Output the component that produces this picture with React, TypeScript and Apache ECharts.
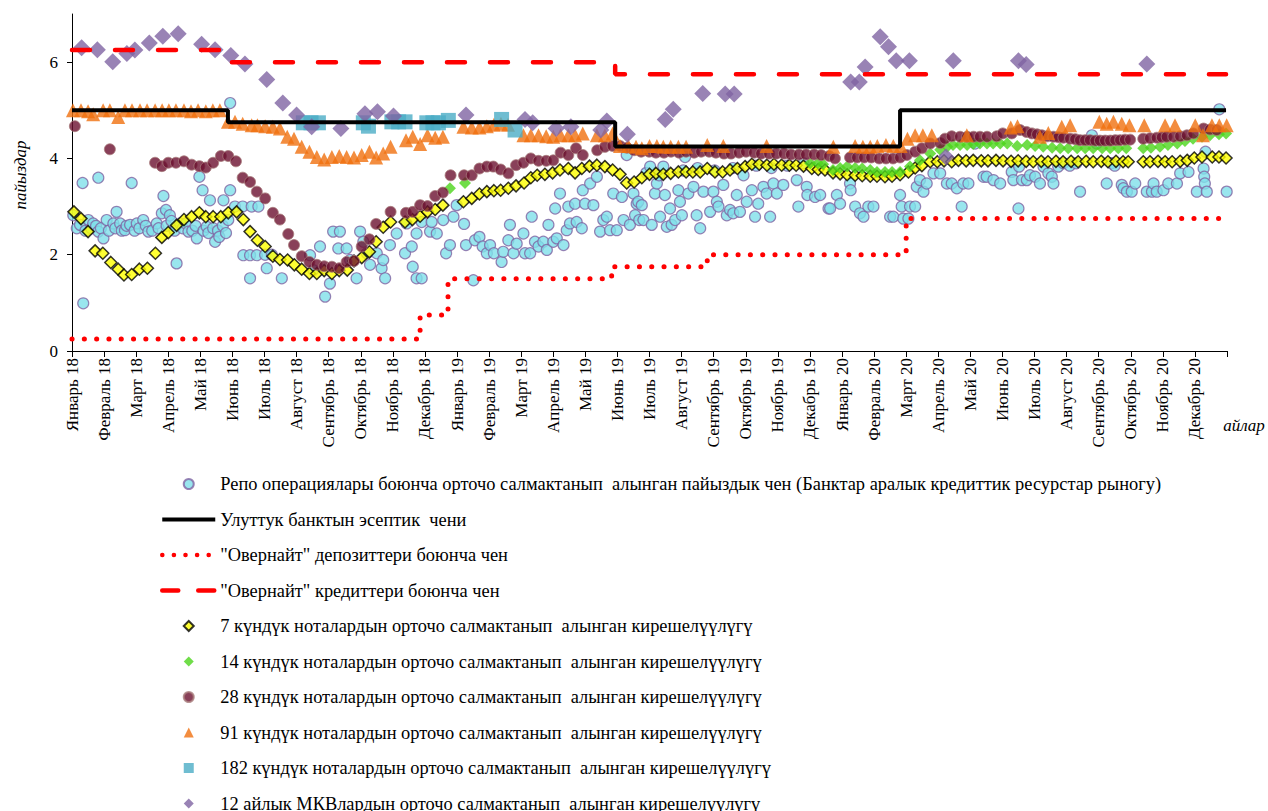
import React, { useEffect, useRef } from "react";
import * as echarts from "echarts";

const monthNames = ["Январь", "Февраль", "Март", "Апрель", "Май", "Июнь", "Июль", "Август", "Сентябрь", "Октябрь", "Ноябрь", "Декабрь"];
const yearSuffixes = ["18", "19", "20"];
const monthLabels: string[] = yearSuffixes.flatMap((y) => monthNames.map((m) => `${m} ${y}`));
const yTicks = [0, 2, 4, 6];

// x values are months since January 2018 (fractional), y values are rates in %
const policyRate = [[0, 5.0], [4.86, 4.75], [16.93, 4.25], [25.81, 5.0], [35.97, 5.0]];
const overnightDeposit = [[0, 0.25], [10.85, 0.75], [11.72, 1.5], [16.82, 1.75], [19.8, 2.0], [26.0, 2.75], [35.97, 2.75]];
const overnightCredit = [[0, 6.25], [4.86, 6.0], [16.93, 5.75], [35.97, 5.75]];

const repoRate = [
  [0.04, 2.82], [0.15, 2.55], [0.25, 2.62], [0.33, 3.49], [0.35, 0.99], [0.42, 2.5], [0.51, 2.72], [0.6, 2.55], [0.66, 2.65], [0.75, 2.6],
  [0.82, 2.48], [0.82, 3.6], [0.9, 2.55], [0.98, 2.34], [1.08, 2.72], [1.15, 2.5], [1.29, 2.65], [1.35, 2.55], [1.39, 2.89], [1.5, 2.65],
  [1.55, 2.5], [1.65, 2.51], [1.7, 2.6], [1.81, 2.62], [1.86, 3.49], [1.95, 2.5], [2.02, 2.65], [2.1, 2.55], [2.22, 2.72], [2.3, 2.6],
  [2.38, 2.48], [2.5, 2.5], [2.64, 2.65], [2.7, 2.55], [2.8, 2.86], [2.85, 3.22], [2.93, 2.93], [2.95, 2.6], [3.05, 2.82], [3.1, 2.7],
  [3.2, 2.5], [3.26, 1.82], [3.37, 2.65], [3.45, 2.55], [3.55, 2.65], [3.63, 2.48], [3.75, 2.5], [3.85, 2.6], [3.89, 2.34], [3.97, 3.62],
  [4.07, 3.34], [4.1, 2.5], [4.2, 2.58], [4.25, 2.45], [4.3, 3.13], [4.4, 2.55], [4.46, 2.27], [4.55, 2.5], [4.59, 2.37], [4.7, 2.6],
  [4.72, 3.13], [4.8, 2.45], [4.87, 2.72], [4.93, 5.15], [4.93, 3.34],
  [5.08, 3.0], [5.32, 3.0], [5.34, 1.99], [5.55, 1.51], [5.55, 1.99], [5.6, 3.0], [5.76, 1.99], [5.81, 3.0], [6.02, 2.0], [6.07, 1.72],
  [6.23, 2.0], [6.54, 1.51],
  [7.42, 1.99], [7.52, 1.68], [7.73, 2.17], [7.89, 1.13], [8.04, 1.4], [8.14, 2.48], [8.3, 2.13], [8.35, 2.48], [8.56, 2.13], [8.67, 1.89],
  [8.87, 1.51], [8.98, 2.48], [9.08, 2.27], [9.19, 2.03], [9.29, 1.79], [9.5, 2.03], [9.65, 1.72], [9.7, 1.89], [9.76, 1.51], [9.91, 2.2],
  [10.12, 2.44], [10.38, 2.03], [10.43, 2.65], [10.59, 2.17], [10.62, 1.75], [10.74, 1.51], [10.74, 2.44], [10.9, 1.51], [10.9, 2.68],
  [11.16, 2.48], [11.21, 2.68], [11.37, 2.44], [11.57, 2.72], [11.66, 2.03], [11.78, 2.2], [11.89, 2.79], [11.99, 3.03],
  [12.22, 2.64], [12.28, 2.2], [12.51, 1.47], [12.56, 2.3], [12.7, 2.37], [12.8, 2.17], [12.93, 2.03], [13.03, 2.2], [13.15, 2.03], [13.39, 1.85],
  [13.44, 2.06], [13.6, 2.3], [13.65, 2.62], [13.76, 2.03], [13.86, 2.23], [14.07, 2.44], [14.12, 2.03], [14.28, 2.03], [14.33, 2.79], [14.43, 2.27],
  [14.54, 2.17], [14.69, 2.27], [14.8, 2.1], [14.85, 2.62], [15.0, 2.27], [15.06, 2.96], [15.11, 2.34], [15.21, 3.27], [15.32, 2.2], [15.42, 2.51],
  [15.47, 3.0], [15.52, 2.65], [15.68, 3.06], [15.73, 2.68], [15.89, 2.55], [15.92, 3.34], [15.99, 3.06], [16.15, 3.48], [16.25, 3.03], [16.36, 3.62],
  [16.46, 2.48], [16.56, 2.72], [16.67, 2.79], [16.77, 2.51], [16.87, 3.27], [16.98, 2.51], [17.14, 3.2], [17.19, 2.72], [17.29, 4.07], [17.39, 2.62],
  [17.5, 3.27], [17.55, 2.82], [17.6, 3.06], [17.65, 3.1], [17.68, 2.72], [17.76, 3.03], [17.81, 2.72], [17.9, 3.7], [18.02, 3.83], [18.07, 2.62],
  [18.17, 3.27], [18.23, 3.48], [18.3, 3.65], [18.33, 2.79], [18.43, 3.83], [18.48, 3.24], [18.54, 2.58], [18.64, 2.96], [18.69, 2.62], [18.8, 2.72],
  [18.9, 3.34], [18.95, 3.1], [19.01, 2.82], [19.05, 3.75], [19.11, 4.03], [19.21, 3.27], [19.37, 3.41], [19.47, 2.82], [19.5, 3.8], [19.58, 2.55],
  [19.68, 3.31], [19.89, 2.89], [19.99, 3.31], [20.03, 3.75], [20.1, 3.1], [20.15, 3.0], [20.3, 3.45], [20.41, 2.82], [20.51, 2.93], [20.6, 3.8],
  [20.61, 2.86], [20.72, 3.24], [20.82, 2.89], [20.93, 3.65], [21.03, 3.1], [21.19, 3.34], [21.29, 2.79], [21.33, 3.85], [21.39, 3.06], [21.55, 3.41],
  [21.65, 3.27], [21.76, 2.79], [21.8, 3.8], [21.86, 3.48], [21.97, 3.27], [22.17, 3.45], [22.3, 3.85], [22.59, 3.55], [22.64, 3.0], [22.8, 3.9],
  [22.9, 3.41], [22.92, 3.24], [23.16, 3.2], [23.32, 3.24], [23.58, 2.96], [23.63, 2.96], [23.84, 3.24], [23.94, 3.06], [24.25, 3.48], [24.27, 3.34],
  [24.41, 3.0], [24.56, 2.86], [24.67, 2.79], [24.82, 3.0], [24.98, 3.0], [25.5, 2.79], [25.6, 2.79], [25.81, 3.24], [25.86, 3.0], [25.91, 2.75],
  [26.07, 2.75], [26.12, 3.0], [26.28, 3.0], [26.33, 3.41], [26.43, 3.55], [26.54, 3.31], [26.64, 3.48], [26.85, 3.69], [27.06, 3.69], [27.27, 3.48],
  [27.42, 3.48], [27.58, 3.38], [27.73, 3.0], [27.78, 3.48], [27.94, 3.48], [28.15, 4.31], [28.41, 3.62], [28.51, 3.62], [28.72, 3.55], [28.93, 3.48],
  [29.29, 3.72], [29.34, 3.55], [29.5, 2.96], [29.52, 3.83], [29.61, 3.55], [29.76, 3.55], [29.86, 3.65], [30.02, 3.62], [30.17, 3.48], [30.28, 3.83],
  [30.43, 3.69], [30.54, 3.62], [30.59, 3.48], [30.74, 3.83], [30.9, 3.9], [31.1, 3.85], [31.3, 3.9], [31.42, 3.31], [31.79, 4.48], [31.94, 4.31],
  [32.25, 3.48], [32.4, 3.9], [32.5, 3.85], [32.72, 3.45], [32.77, 3.38], [32.88, 3.31], [33.03, 3.31], [33.14, 3.48], [33.5, 3.31], [33.66, 3.31],
  [33.71, 3.48], [33.81, 3.31], [34.02, 3.34], [34.17, 3.48], [34.44, 3.48], [34.54, 3.69], [34.8, 3.72], [35.06, 3.31], [35.27, 3.79], [35.29, 3.62],
  [35.31, 3.48], [35.33, 4.14], [35.37, 3.31], [35.76, 5.02], [35.99, 3.31],
];

const note7 = [
  [0.06, 2.89], [0.28, 2.75], [0.5, 2.48], [0.72, 2.08], [0.96, 2.03], [1.21, 1.84], [1.44, 1.7], [1.62, 1.58], [1.86, 1.59], [2.1, 1.7],
  [2.35, 1.72], [2.6, 2.03], [2.8, 2.36], [3.0, 2.46], [3.26, 2.61], [3.49, 2.73], [3.73, 2.79], [3.97, 2.87], [4.17, 2.79], [4.4, 2.79],
  [4.64, 2.79], [4.87, 2.87], [5.13, 2.89], [5.34, 2.73], [5.55, 2.48], [5.78, 2.3], [6.02, 2.17], [6.26, 1.97], [6.48, 1.9], [6.72, 1.89],
  [6.93, 1.79], [7.16, 1.7], [7.4, 1.61], [7.63, 1.61], [7.86, 1.67], [8.1, 1.61], [8.33, 1.67], [8.58, 1.68], [8.79, 1.87], [9.03, 1.94],
  [9.27, 2.06], [9.48, 2.27], [9.7, 2.57], [9.93, 2.68], [10.38, 2.68], [10.61, 2.73], [10.85, 2.8], [11.08, 2.89], [11.32, 2.94], [11.56, 3.03],
  [12.2, 3.1], [12.46, 3.17], [12.7, 3.26], [12.93, 3.31], [13.15, 3.33], [13.36, 3.34], [13.6, 3.38], [13.84, 3.43], [14.09, 3.49], [14.3, 3.6],
  [14.5, 3.65], [14.74, 3.67], [14.98, 3.7], [15.21, 3.76], [15.47, 3.79], [15.68, 3.7], [15.89, 3.79], [16.13, 3.84], [16.36, 3.86], [16.61, 3.83],
  [16.85, 3.76], [17.08, 3.67], [17.29, 3.49], [17.52, 3.51], [17.76, 3.6], [18.0, 3.67], [18.2, 3.69], [18.43, 3.67], [18.66, 3.69], [18.9, 3.72],
  [19.14, 3.72], [19.35, 3.72], [19.58, 3.72], [19.8, 3.79], [20.04, 3.72], [20.28, 3.72], [20.51, 3.76], [20.74, 3.79], [20.98, 3.83], [21.19, 3.88],
  [21.42, 3.88], [21.66, 3.86], [21.88, 3.88], [22.12, 3.86], [22.36, 3.86], [22.57, 3.86], [22.8, 3.84], [23.06, 3.79], [23.26, 3.77], [23.47, 3.76],
  [23.72, 3.7], [23.94, 3.68], [24.16, 3.66], [24.41, 3.65], [24.63, 3.64], [24.88, 3.63], [25.09, 3.63], [25.34, 3.62], [25.56, 3.63], [25.81, 3.66],
  [26.07, 3.72], [26.28, 3.8], [26.49, 3.85], [26.75, 3.93], [26.97, 3.93], [27.18, 3.95], [27.42, 3.93], [27.63, 3.96], [27.87, 3.95], [28.09, 3.96],
  [28.34, 3.95], [28.55, 3.95], [28.8, 3.96], [29.02, 3.95], [29.27, 3.94], [29.49, 3.95], [29.74, 3.94], [29.96, 3.93], [30.21, 3.94], [30.42, 3.93],
  [30.67, 3.94], [30.89, 3.93], [31.14, 3.94], [31.36, 3.93], [31.61, 3.94], [31.83, 3.93], [32.08, 3.94], [32.29, 3.93], [32.54, 3.94], [32.76, 3.93],
  [32.92, 3.93], [33.39, 3.93], [33.6, 3.93], [33.85, 3.94], [34.07, 3.93], [34.29, 3.93], [34.54, 3.94], [34.76, 3.96], [34.98, 4.01], [35.22, 4.03],
  [35.54, 4.03], [35.75, 4.03], [35.97, 4.01],
];

const note14 = [
  [11.78, 3.38], [12.25, 3.49],
  [23.01, 3.9], [23.25, 3.9], [23.41, 3.88], [23.72, 3.76], [23.94, 3.8], [24.16, 3.83], [24.41, 3.8], [24.63, 3.79], [24.88, 3.76], [25.09, 3.72],
  [25.34, 3.72], [25.56, 3.72], [25.81, 3.72], [26.12, 3.83], [26.43, 3.96], [26.75, 4.1], [27.06, 4.18], [27.28, 4.24], [27.46, 4.28], [27.68, 4.28],
  [27.9, 4.28], [28.09, 4.3], [28.3, 4.31], [28.52, 4.31], [28.71, 4.31], [28.93, 4.31], [29.15, 4.31], [29.46, 4.26], [29.77, 4.28], [30.02, 4.26],
  [30.27, 4.24], [30.55, 4.22], [30.8, 4.21], [31.05, 4.21], [31.33, 4.21], [31.58, 4.21], [31.83, 4.21], [32.11, 4.21], [32.36, 4.21], [32.61, 4.21],
  [32.86, 4.21], [33.39, 4.21], [33.63, 4.22], [33.91, 4.24], [34.16, 4.28], [34.45, 4.31], [34.69, 4.36], [34.94, 4.41], [35.22, 4.45], [35.47, 4.48],
  [35.75, 4.5], [35.97, 4.52],
];

const note28 = [
  [0.09, 4.67], [1.18, 4.19], [2.59, 3.91], [2.8, 3.84], [3.0, 3.91], [3.24, 3.91], [3.49, 3.94], [3.73, 3.87], [3.97, 3.84], [4.17, 3.81],
  [4.4, 3.91], [4.64, 4.05], [4.87, 4.05], [5.11, 3.94], [5.32, 3.6], [5.55, 3.51], [5.76, 3.31], [6.02, 3.17], [6.26, 2.87], [6.48, 2.73],
  [6.74, 2.43], [6.92, 2.2], [7.16, 1.97], [7.4, 1.85], [7.63, 1.79], [7.86, 1.76], [8.1, 1.75], [8.33, 1.72], [8.56, 1.85], [8.79, 1.87],
  [9.03, 2.17], [9.27, 2.32], [9.48, 2.64], [9.93, 2.89], [10.41, 2.87], [10.62, 2.89], [10.85, 3.03], [11.08, 3.01], [11.32, 3.22], [11.56, 3.29],
  [11.8, 3.65], [12.22, 3.65], [12.46, 3.65], [12.7, 3.79], [12.93, 3.83], [13.13, 3.83], [13.36, 3.77], [13.6, 3.69], [13.84, 3.86], [14.07, 3.91],
  [14.3, 4.0], [14.54, 3.95], [14.78, 3.95], [15.0, 3.96], [15.23, 4.12], [15.47, 4.07], [15.71, 4.21], [15.92, 4.07], [16.37, 4.17], [16.61, 4.24],
  [16.85, 4.26], [17.08, 4.26], [17.3, 4.22], [17.52, 4.17], [17.74, 4.14], [17.99, 4.14], [18.2, 4.12], [18.45, 4.12], [18.67, 4.14], [18.92, 4.12],
  [19.14, 4.14], [19.39, 4.12], [19.61, 4.14], [19.86, 4.14], [20.07, 4.12], [20.32, 4.1], [20.54, 4.1], [20.79, 4.12], [21.01, 4.14], [21.26, 4.12],
  [21.48, 4.1], [21.73, 4.1], [21.95, 4.1], [22.19, 4.1], [22.41, 4.08], [22.66, 4.08], [22.88, 4.08], [23.13, 4.08], [23.35, 4.07], [23.6, 4.05],
  [23.78, 4.0], [24.25, 4.02], [24.47, 4.02], [24.69, 4.02], [24.91, 4.02], [25.16, 4.0], [25.37, 4.0], [25.59, 4.0], [25.81, 4.02], [26.02, 4.07],
  [26.28, 4.14], [26.49, 4.21], [26.75, 4.31], [27.06, 4.32], [27.21, 4.41], [27.42, 4.46], [27.68, 4.45], [27.9, 4.45], [28.1, 4.45], [28.3, 4.45],
  [28.52, 4.45], [28.82, 4.46], [29.01, 4.52], [29.29, 4.52], [29.55, 4.59], [29.75, 4.55], [29.92, 4.52], [30.08, 4.5], [30.23, 4.48], [30.4, 4.46],
  [30.59, 4.45], [30.75, 4.44], [30.9, 4.43], [31.11, 4.41], [31.27, 4.4], [31.42, 4.38], [31.58, 4.38], [31.73, 4.38], [31.9, 4.37], [32.04, 4.37],
  [32.2, 4.37], [32.36, 4.37], [32.52, 4.38], [32.67, 4.38], [32.82, 4.39], [32.98, 4.39], [33.39, 4.41], [33.6, 4.42], [33.81, 4.43], [33.97, 4.44],
  [34.12, 4.45], [34.33, 4.45], [34.54, 4.46], [34.75, 4.48], [34.95, 4.52], [35.27, 4.62], [35.47, 4.6], [35.68, 4.59],
];

const note91 = [
  [0.03, 5.0], [0.28, 5.0], [0.5, 4.98], [0.66, 4.92], [0.97, 5.0], [1.18, 5.0], [1.44, 4.86], [1.65, 5.0], [1.87, 5.0], [2.12, 5.0],
  [2.34, 5.0], [2.59, 5.0], [2.81, 5.0], [3.02, 5.0], [3.24, 5.0], [3.49, 5.0], [3.71, 4.98], [3.93, 5.0], [4.17, 4.98], [4.39, 5.0],
  [4.61, 5.0], [4.86, 4.76], [5.08, 4.76], [5.32, 4.72], [5.6, 4.69], [5.78, 4.69], [6.02, 4.67], [6.26, 4.66], [6.48, 4.62], [6.71, 4.45],
  [6.92, 4.41], [7.16, 4.24], [7.4, 4.14], [7.63, 4.03], [7.86, 3.98], [8.1, 4.03], [8.33, 4.05], [8.56, 4.03], [8.79, 4.02], [9.03, 4.07],
  [9.27, 4.14], [9.48, 4.02], [9.7, 4.1], [9.93, 4.24], [10.41, 4.38], [10.62, 4.45], [10.85, 4.3], [11.08, 4.48], [11.32, 4.43], [11.56, 4.45],
  [12.2, 4.66], [12.46, 4.64], [12.7, 4.64], [12.93, 4.67], [13.15, 4.7], [13.37, 4.72], [13.59, 4.7], [14.07, 4.48], [14.3, 4.48], [14.54, 4.48],
  [14.78, 4.46], [15.0, 4.45], [15.23, 4.48], [15.47, 4.48], [15.68, 4.48], [15.92, 4.52], [16.36, 4.48], [16.61, 4.48], [16.85, 4.52], [17.08, 4.26],
  [17.34, 4.26], [17.58, 4.24], [17.76, 4.21], [18.0, 4.26], [18.23, 4.26], [18.43, 4.24], [18.66, 4.24], [18.9, 4.24], [19.14, 4.24], [19.8, 4.28],
  [20.3, 4.26], [21.65, 4.26], [23.73, 4.24], [24.41, 4.26], [24.65, 4.24], [24.88, 4.24], [25.1, 4.26], [25.37, 4.28], [25.6, 4.26], [25.83, 4.26],
  [26.04, 4.41], [26.28, 4.48], [26.52, 4.48], [26.8, 4.48], [27.89, 4.48], [29.26, 4.64], [29.47, 4.67], [30.17, 4.45], [30.43, 4.53], [30.85, 4.66],
  [31.11, 4.69], [32.02, 4.76], [32.25, 4.72], [32.46, 4.76], [32.72, 4.72], [32.96, 4.69], [33.42, 4.69], [34.07, 4.69], [34.38, 4.69], [35.01, 4.69],
  [35.25, 4.48], [35.53, 4.69], [35.76, 4.69], [35.99, 4.69],
];

const note182 = [
  [7.21, 4.74], [7.45, 4.74], [7.68, 4.74], [9.08, 4.74], [9.24, 4.67], [9.97, 4.76], [10.18, 4.76], [10.38, 4.76], [11.06, 4.74], [11.25, 4.74],
  [11.42, 4.74], [11.73, 4.79], [13.39, 4.81], [13.81, 4.59],
];

const mkv12 = [
  [0.3, 6.3], [0.79, 6.26], [1.27, 6.01], [1.71, 6.18], [1.96, 6.25], [2.41, 6.4], [2.83, 6.54], [3.31, 6.59], [4.04, 6.37], [4.46, 6.26],
  [4.95, 6.14], [5.39, 5.96], [6.07, 5.64], [6.57, 5.15], [7.0, 4.9], [7.47, 4.66], [8.38, 4.62], [9.13, 4.93], [9.52, 4.97], [10.02, 4.88],
  [12.28, 4.9], [14.12, 4.81], [14.36, 4.74], [15.09, 4.62], [15.55, 4.66], [16.48, 4.59], [16.67, 4.78], [17.31, 4.5], [18.49, 4.81], [18.74, 5.02],
  [19.66, 5.35], [20.36, 5.34], [20.64, 5.34], [24.27, 5.59], [24.54, 5.59], [24.72, 5.9], [25.19, 6.53], [25.45, 6.32], [25.69, 6.03], [26.1, 6.03],
  [27.24, 4.03], [27.47, 6.03], [29.5, 6.03], [29.74, 5.95], [33.5, 5.96],
];

const FONT = "Liberation Serif, Times New Roman, serif";

const names = [
  "Репо операциялары боюнча орточо салмактанып  алынган пайыздык чен (Банктар аралык кредиттик ресурстар рыногу)",
  "Улуттук банктын эсептик  чени",
  "\"Овернайт\" депозиттери боюнча чен",
  "\"Овернайт\" кредиттери боюнча чен",
  "7 күндүк ноталардын орточо салмактанып  алынган кирешелүүлүгү",
  "14 күндүк ноталардын орточо салмактанып  алынган кирешелүүлүгү",
  "28 күндүк ноталардын орточо салмактанып  алынган кирешелүүлүгү",
  "91 күндүк ноталардын орточо салмактанып  алынган кирешелүүлүгү",
  "182 күндүк ноталардын орточо салмактанып  алынган кирешелүүлүгү",
  "12 айлык МКВлардын орточо салмактанып  алынган кирешелүүлүгү",
];

const DIAMOND = "path://M5,0 L10,5 L5,10 L0,5 Z";
const TRIANGLE = "path://M5,0 L10,10 L0,10 Z";
const SQUARE = "path://M0,0 L10,0 L10,10 L0,10 Z";

export default function App() {
  const ref = useRef<HTMLDivElement>(null);
  useEffect(() => {
    if (!ref.current) return;
    const chart = echarts.init(ref.current, undefined, { renderer: "svg" });
    const scatter = (name: string, data: number[][], symbol: string, size: number, itemStyle: any) => ({
      name,
      type: "scatter",
      data,
      symbol,
      symbolSize: size,
      itemStyle,
      emphasis: { disabled: true },
    });
    const option: any = {
      animation: false,
      backgroundColor: "#fff",
      textStyle: { fontFamily: FONT, color: "#000" },
      grid: { left: 72, right: 41, top: 14, bottom: 460, containLabel: false },
      xAxis: {
        type: "value",
        min: 0,
        max: 36,
        interval: 1,
        axisLine: { lineStyle: { color: "#000", width: 1 } },
        axisTick: { show: true, length: 6, lineStyle: { color: "#000" } },
        axisLabel: {
          rotate: 90,
          margin: 7,
          fontSize: 17,
          color: "#000",
          fontFamily: FONT,
          formatter: (v: number) => monthLabels[Math.round(v)] ?? "",
        },
        splitLine: { show: false },
      },
      yAxis: {
        type: "value",
        min: 0,
        max: 7,
        axisLine: { show: true, lineStyle: { color: "#000", width: 1 } },
        axisTick: { show: true, length: 5, customValues: yTicks, lineStyle: { color: "#000" } },
        axisLabel: { customValues: yTicks, fontSize: 17, margin: 14, color: "#000", fontFamily: FONT },
        splitLine: { show: false },
      },
      legend: {
        orient: "vertical",
        left: 160,
        top: 475,
        height: 400,
        padding: 0,
        itemWidth: 53,
        itemHeight: 10,
        itemGap: 17.5,
        symbolKeepAspect: true,
        selectedMode: false,
        textStyle: { fontSize: 18.4, lineHeight: 18, fontFamily: FONT, color: "#000" },
        data: [
          { name: names[0] },
          { name: names[1], itemStyle: { opacity: 0 }, lineStyle: { width: 4, color: "#000" } },
          { name: names[2], itemStyle: { opacity: 0 }, lineStyle: { width: 4.5, color: "#ff0000", type: [0.1, 11.5], cap: "round" } },
          { name: names[3], itemStyle: { opacity: 0 }, lineStyle: { width: 4.5, color: "#ff0000", type: [16, 20], cap: "round" } },
          { name: names[4], icon: DIAMOND },
          { name: names[5], icon: DIAMOND },
          { name: names[6] },
          { name: names[7], icon: TRIANGLE },
          { name: names[8], icon: SQUARE },
          { name: names[9], icon: DIAMOND },
        ],
      },
      graphic: [
        {
          type: "text",
          x: 20,
          y: 175,
          rotation: Math.PI / 2,
          style: { text: "пайыздар", font: `italic 17px ${FONT}`, fill: "#000", align: "center", verticalAlign: "middle" },
        },
        {
          type: "text",
          x: 1244,
          y: 425,
          style: { text: "айлар", font: `italic 17px ${FONT}`, fill: "#000", align: "center", verticalAlign: "middle" },
        },
      ],
      series: [
        scatter(names[0], repoRate, "circle", 11, { color: "#7fe0ea", borderColor: "#8064a2", borderWidth: 1.2 }),
        {
          name: names[1],
          type: "line",
          data: policyRate,
          step: "end",
          symbol: "none",
          lineStyle: { color: "#000", width: 4 },
          itemStyle: { color: "#000" },
          emphasis: { disabled: true },
        },
        {
          name: names[2],
          type: "line",
          data: overnightDeposit,
          step: "end",
          symbol: "none",
          lineStyle: { color: "#ff0000", width: 5, type: [0.1, 12.2], cap: "round" },
          itemStyle: { color: "#ff0000" },
          emphasis: { disabled: true },
        },
        {
          name: names[3],
          type: "line",
          data: overnightCredit,
          step: "end",
          symbol: "none",
          lineStyle: { color: "#ff0000", width: 4.5, type: [18, 25], cap: "round" },
          itemStyle: { color: "#ff0000" },
          emphasis: { disabled: true },
        },
        scatter(names[4], note7, "diamond", 12, { color: "#ffff00", borderColor: "#000", borderWidth: 1.5 }),
        scatter(names[5], note14, "diamond", 12, { color: "#4cd41c" }),
        scatter(names[6], note28, "circle", 11, { color: "#6b1030", borderColor: "#a87b7b", borderWidth: 1 }),
        scatter(names[7], note91, "triangle", 14, { color: "#f0700f" }),
        scatter(names[8], note182, "rect", 15, { color: "#4bacc6" }),
        scatter(names[9], mkv12, "diamond", 17, { color: "#8064a2" }),
      ],
    };
    chart.setOption(option);
    return () => chart.dispose();
  }, []);
  return <div ref={ref} style={{ position: "absolute", left: 0, top: 0, width: 1268, height: 811 }} />;
}
